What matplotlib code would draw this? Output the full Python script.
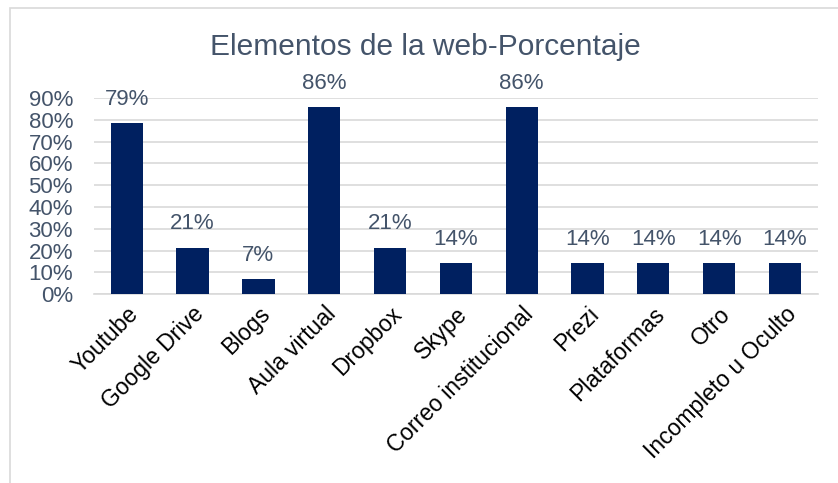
import matplotlib.pyplot as plt
from matplotlib.patches import Rectangle

categorias = ['Youtube', 'Google Drive', 'Blogs', 'Aula virtual', 'Dropbox', 'Skype',
              'Correo institucional', 'Prezi', 'Plataformas', 'Otro', 'Incompleto u Oculto']
porcentajes = [0.786, 0.214, 0.071, 0.857, 0.214, 0.143, 0.857, 0.143, 0.143, 0.143, 0.143]
yticks = [0, 0.1, 0.2, 0.3, 0.4, 0.5, 0.6, 0.7, 0.8, 0.9]

plt.rcParams['font.family'] = ['Liberation Sans', 'DejaVu Sans']
gris = '#44546A'

fig = plt.figure(figsize=(8.38, 4.83), dpi=100)
# borde del grafico
fig.patches.append(Rectangle((10 / 838, -0.05), 1.2, 1 - 8 / 483 + 0.05, transform=fig.transFigure,
                             fill=False, edgecolor='#D9D9D9', linewidth=1.2))
ax = fig.add_axes([0.112, 0.391, 0.864, 0.406])

x = range(len(categorias))
bars = ax.bar(x, porcentajes, width=0.49, color='#002060', zorder=3)
for xi, v in zip(x, porcentajes):
    ax.annotate(f'{round(v * 100)}%', (xi, v), xytext=(0, 17), textcoords='offset points',
                ha='center', va='center', fontsize=16, color=gris)

ax.set_xlim(-0.5, len(categorias) - 0.5)
ax.set_ylim(0, 0.9)
ax.set_yticks(yticks)
ax.set_yticklabels([f'{round(t * 100)}%' for t in yticks], fontsize=16, color=gris)
ax.set_xticks(list(x))
ax.set_xticklabels(categorias, rotation=45, ha='right', rotation_mode='anchor', fontsize=16.5, color='black')
ax.tick_params(axis='both', length=0)
ax.tick_params(axis='y', pad=15)
ax.tick_params(axis='x', pad=6)
ax.grid(axis='y', color='#D9D9D9', linewidth=1.2, zorder=0)
for s in ['top', 'right', 'left']:
    ax.spines[s].set_visible(False)
ax.spines['bottom'].set_color('#D9D9D9')
ax.spines['bottom'].set_linewidth(1.2)

fig.text(0.508, 1 - 47 / 483, 'Elementos de la web-Porcentaje', ha='center', va='center',
         fontsize=21.5, color=gris)

fig.savefig('out.png', dpi=100)
